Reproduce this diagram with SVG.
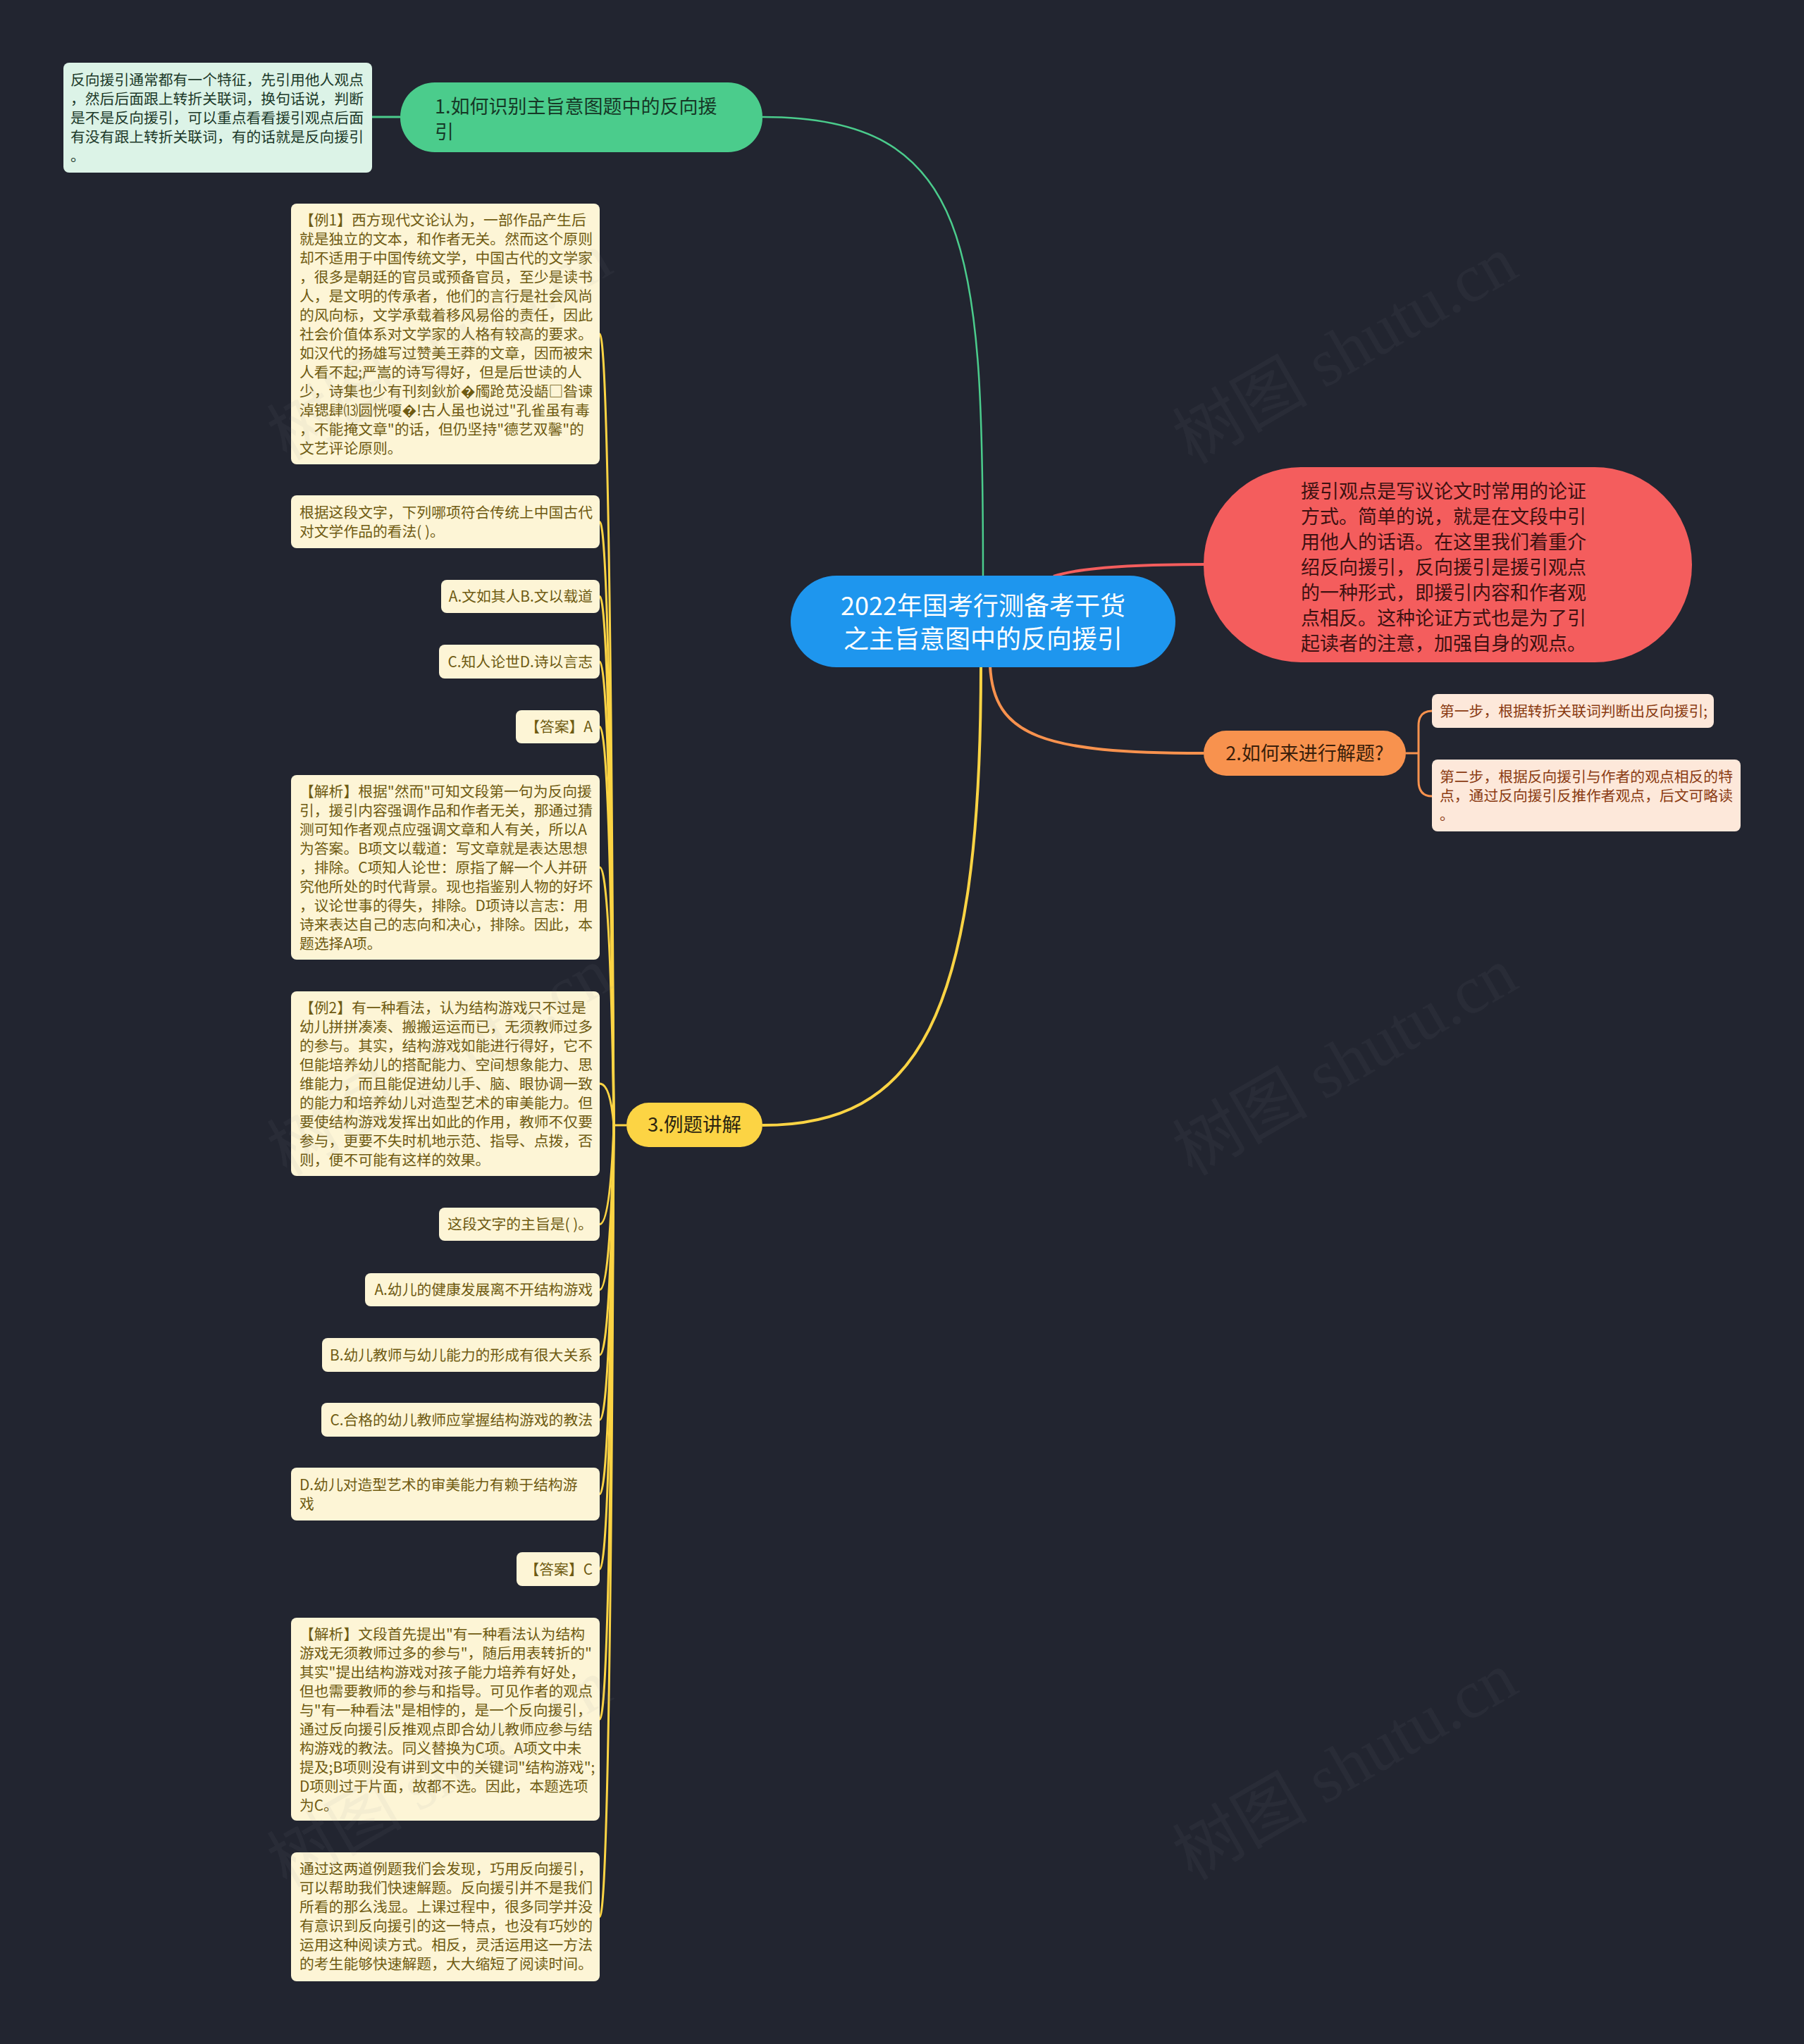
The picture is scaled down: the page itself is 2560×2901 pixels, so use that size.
<svg xmlns="http://www.w3.org/2000/svg" width="2560" height="2901" viewBox="0 0 2560 2901">
<style>
text{font-family:"Noto Sans CJK SC","Noto Sans",sans-serif;}
.bg{fill:#222530;}
.ylf{fill:#fdf5d6;}
.yt{fill:#6f5b12;font-size:20.8px;}
.yte{fill:#6f5b12;font-size:20.8px;text-anchor:end;}
.olf{fill:#fde8da;}
.ot{fill:#8a3b12;font-size:20.8px;}
.glf{fill:#dcf3e7;}
.gt{fill:#1d3a2a;font-size:20.8px;}
.yc{fill:none;stroke:#fcd444;stroke-width:3;}
.wm{fill:#8a8f99;opacity:0.07;font-size:96px;font-family:"Liberation Serif","Noto Sans CJK SC",serif;}
</style>
<rect class="bg" x="0" y="0" width="2560" height="2901"/>

<g id="connectors">
  <path d="M1082,166 C1380,166 1395,350 1395,818" fill="none" stroke="#4bcc8c" stroke-width="2.5"/>
  <path d="M1495,818 Q1545,801 1709,801" fill="none" stroke="#f45d5d" stroke-width="4"/>
  <path d="M1405,945 C1410,1045 1480,1069 1708,1069" fill="none" stroke="#f8924e" stroke-width="4"/>
  <path d="M1392,945 C1392,1450 1300,1597 1082,1597" fill="none" stroke="#fcd444" stroke-width="4"/>
  <path d="M528,166 L568,166" fill="none" stroke="#4bcc8c" stroke-width="3"/>
  <path d="M1995,1069 L2013,1069 M2032,1009 Q2013,1009 2013,1030 L2013,1108 Q2013,1130 2032,1130" fill="none" stroke="#f8924e" stroke-width="3"/>
  <path class="yc" d="M889,1597 L871,1597"/>
  <path class="yc" d="M871,1597 Q866,474 851,474"/>
  <path class="yc" d="M871,1597 Q866,740.5 851,740.5"/>
  <path class="yc" d="M871,1597 Q866,846.5 851,846.5"/>
  <path class="yc" d="M871,1597 Q866,939 851,939"/>
  <path class="yc" d="M871,1597 Q866,1031.5 851,1031.5"/>
  <path class="yc" d="M871,1597 Q866,1231 851,1231"/>
  <path class="yc" d="M871,1597 Q866,1538 851,1538"/>
  <path class="yc" d="M871,1597 Q866,1737.5 851,1737.5"/>
  <path class="yc" d="M871,1597 Q866,1830.5 851,1830.5"/>
  <path class="yc" d="M871,1597 Q866,1923 851,1923"/>
  <path class="yc" d="M871,1597 Q866,2015 851,2015"/>
  <path class="yc" d="M871,1597 Q866,2120.5 851,2120.5"/>
  <path class="yc" d="M871,1597 Q866,2227 851,2227"/>
  <path class="yc" d="M871,1597 Q866,2440 851,2440"/>
  <path class="yc" d="M871,1597 Q866,2720.5 851,2720.5"/>
</g>

<g id="central">
  <rect x="1122" y="817" width="546" height="130" rx="65" fill="#1e96ee"/>
  <text x="1395" y="873" font-size="36" fill="#ffffff" text-anchor="middle">2022年国考行测备考干货</text>
  <text x="1395" y="920" font-size="36" fill="#ffffff" text-anchor="middle">之主旨意图中的反向援引</text>
</g>

<g id="intro">
  <rect x="1708" y="663" width="693" height="277" rx="138" fill="#f45d5d"/>
  <text font-size="27" fill="#3d1111">
    <tspan x="1846" y="706.5">援引观点是写议论文时常用的论证</tspan>
    <tspan x="1846" y="742.5">方式。简单的说，就是在文段中引</tspan>
    <tspan x="1846" y="778.5">用他人的话语。在这里我们着重介</tspan>
    <tspan x="1846" y="814.5">绍反向援引，反向援引是援引观点</tspan>
    <tspan x="1846" y="850.5">的一种形式，即援引内容和作者观</tspan>
    <tspan x="1846" y="886.5">点相反。这种论证方式也是为了引</tspan>
    <tspan x="1846" y="922.5">起读者的注意，加强自身的观点。</tspan>
  </text>
</g>

<g id="topic1">
  <rect x="568" y="117" width="514" height="99" rx="49" fill="#4bcc8c"/>
  <text font-size="27" fill="#163826">
    <tspan x="617" y="161">1.如何识别主旨意图题中的反向援</tspan>
    <tspan x="617" y="197">引</tspan>
  </text>
</g>
<g id="topic1-leaf">
  <rect class="glf" x="90" y="89" width="438" height="156" rx="8"/>
  <text class="gt">
    <tspan x="100" y="120.5">反向援引通常都有一个特征，先引用他人观点</tspan>
    <tspan x="100" y="147.5">，然后后面跟上转折关联词，换句话说，判断</tspan>
    <tspan x="100" y="174.5">是不是反向援引，可以重点看看援引观点后面</tspan>
    <tspan x="100" y="201.5">有没有跟上转折关联词，有的话就是反向援引</tspan>
    <tspan x="100" y="228.5">。</tspan>
  </text>
</g>

<g id="topic2">
  <rect x="1708" y="1037" width="287" height="64" rx="32" fill="#f8924e"/>
  <text x="1851.5" y="1078.5" font-size="27" fill="#3a1e0a" text-anchor="middle">2.如何来进行解题?</text>
</g>
<g id="topic2-leaf1">
  <rect class="olf" x="2032" y="985" width="400" height="48" rx="8"/>
  <text class="ot" x="2043" y="1016.5">第一步，根据转折关联词判断出反向援引;</text>
</g>
<g id="topic2-leaf2">
  <rect class="olf" x="2032" y="1078" width="438" height="102" rx="8"/>
  <text class="ot">
    <tspan x="2043" y="1109.5">第二步，根据反向援引与作者的观点相反的特</tspan>
    <tspan x="2043" y="1136.5">点，通过反向援引反推作者观点，后文可略读</tspan>
    <tspan x="2043" y="1163.5">。</tspan>
  </text>
</g>

<g id="topic3">
  <rect x="889" y="1565" width="193" height="63" rx="31.5" fill="#fcd444"/>
  <text x="985.5" y="1606" font-size="27.5" fill="#2b2410" text-anchor="middle">3.例题讲解</text>
</g>

<g id="leaf-ex1">
  <rect class="ylf" x="413" y="289" width="438" height="370" rx="8"/>
  <text class="yt">
    <tspan x="425" y="320">【例1】西方现代文论认为，一部作品产生后</tspan>
    <tspan x="425" y="347">就是独立的文本，和作者无关。然而这个原则</tspan>
    <tspan x="425" y="374">却不适用于中国传统文学，中国古代的文学家</tspan>
    <tspan x="425" y="401">，很多是朝廷的官员或预备官员，至少是读书</tspan>
    <tspan x="425" y="428">人，是文明的传承者，他们的言行是社会风尚</tspan>
    <tspan x="425" y="455">的风向标，文学承载着移风易俗的责任，因此</tspan>
    <tspan x="425" y="482">社会价值体系对文学家的人格有较高的要求。</tspan>
    <tspan x="425" y="509">如汉代的扬雄写过赞美王莽的文章，因而被宋</tspan>
    <tspan x="425" y="536">人看不起;严嵩的诗写得好，但是后世读的人</tspan>
    <tspan x="425" y="563">少，诗集也少有刊刻鈥斺�斶跄苋没龉□昝谏</tspan>
    <tspan x="425" y="590">淖锶肆⒀圆恍嗄�!古人虽也说过"孔雀虽有毒</tspan>
    <tspan x="425" y="617">，不能掩文章"的话，但仍坚持"德艺双馨"的</tspan>
    <tspan x="425" y="644">文艺评论原则。</tspan>
  </text>
</g>
<g id="leaf-q1">
  <rect class="ylf" x="413" y="703" width="438" height="75" rx="8"/>
  <text class="yt">
    <tspan x="425" y="734.5">根据这段文字，下列哪项符合传统上中国古代</tspan>
    <tspan x="425" y="761.5">对文学作品的看法( )。</tspan>
  </text>
</g>
<g id="leaf-q1-ab">
  <rect class="ylf" x="626" y="823" width="225" height="47" rx="8"/>
  <text class="yte" x="841" y="854">A.文如其人B.文以载道</text>
</g>
<g id="leaf-q1-cd">
  <rect class="ylf" x="623" y="915" width="228" height="48" rx="8"/>
  <text class="yte" x="841" y="946.5">C.知人论世D.诗以言志</text>
</g>
<g id="leaf-a1">
  <rect class="ylf" x="732" y="1008" width="119" height="47" rx="8"/>
  <text class="yte" x="841" y="1039">【答案】A</text>
</g>
<g id="leaf-an1">
  <rect class="ylf" x="413" y="1100" width="438" height="262" rx="8"/>
  <text class="yt">
    <tspan x="425" y="1131">【解析】根据"然而"可知文段第一句为反向援</tspan>
    <tspan x="425" y="1158">引，援引内容强调作品和作者无关，那通过猜</tspan>
    <tspan x="425" y="1185">测可知作者观点应强调文章和人有关，所以A</tspan>
    <tspan x="425" y="1212">为答案。B项文以载道：写文章就是表达思想</tspan>
    <tspan x="425" y="1239">，排除。C项知人论世：原指了解一个人并研</tspan>
    <tspan x="425" y="1266">究他所处的时代背景。现也指鉴别人物的好坏</tspan>
    <tspan x="425" y="1293">，议论世事的得失，排除。D项诗以言志：用</tspan>
    <tspan x="425" y="1320">诗来表达自己的志向和决心，排除。因此，本</tspan>
    <tspan x="425" y="1347">题选择A项。</tspan>
  </text>
</g>
<g id="leaf-ex2">
  <rect class="ylf" x="413" y="1407" width="438" height="262" rx="8"/>
  <text class="yt">
    <tspan x="425" y="1438">【例2】有一种看法，认为结构游戏只不过是</tspan>
    <tspan x="425" y="1465">幼儿拼拼凑凑、搬搬运运而已，无须教师过多</tspan>
    <tspan x="425" y="1492">的参与。其实，结构游戏如能进行得好，它不</tspan>
    <tspan x="425" y="1519">但能培养幼儿的搭配能力、空间想象能力、思</tspan>
    <tspan x="425" y="1546">维能力，而且能促进幼儿手、脑、眼协调一致</tspan>
    <tspan x="425" y="1573">的能力和培养幼儿对造型艺术的审美能力。但</tspan>
    <tspan x="425" y="1600">要使结构游戏发挥出如此的作用，教师不仅要</tspan>
    <tspan x="425" y="1627">参与，更要不失时机地示范、指导、点拨，否</tspan>
    <tspan x="425" y="1654">则，便不可能有这样的效果。</tspan>
  </text>
</g>
<g id="leaf-q2">
  <rect class="ylf" x="623" y="1714" width="228" height="47" rx="8"/>
  <text class="yte" x="841" y="1745">这段文字的主旨是( )。</text>
</g>
<g id="leaf-q2-a">
  <rect class="ylf" x="518" y="1807" width="333" height="47" rx="8"/>
  <text class="yte" x="841" y="1838">A.幼儿的健康发展离不开结构游戏</text>
</g>
<g id="leaf-q2-b">
  <rect class="ylf" x="457" y="1899" width="394" height="48" rx="8"/>
  <text class="yte" x="841" y="1930.5">B.幼儿教师与幼儿能力的形成有很大关系</text>
</g>
<g id="leaf-q2-c">
  <rect class="ylf" x="456" y="1991" width="395" height="48" rx="8"/>
  <text class="yte" x="841" y="2022.5">C.合格的幼儿教师应掌握结构游戏的教法</text>
</g>
<g id="leaf-q2-d">
  <rect class="ylf" x="413" y="2083" width="438" height="75" rx="8"/>
  <text class="yt">
    <tspan x="425" y="2114.5">D.幼儿对造型艺术的审美能力有赖于结构游</tspan>
    <tspan x="425" y="2141.5">戏</tspan>
  </text>
</g>
<g id="leaf-a2">
  <rect class="ylf" x="733" y="2203" width="118" height="48" rx="8"/>
  <text class="yte" x="841" y="2234.5">【答案】C</text>
</g>
<g id="leaf-an2">
  <rect class="ylf" x="413" y="2296" width="438" height="288" rx="8"/>
  <text class="yt">
    <tspan x="425" y="2326.5">【解析】文段首先提出"有一种看法认为结构</tspan>
    <tspan x="425" y="2353.5">游戏无须教师过多的参与"，随后用表转折的"</tspan>
    <tspan x="425" y="2380.5">其实"提出结构游戏对孩子能力培养有好处，</tspan>
    <tspan x="425" y="2407.5">但也需要教师的参与和指导。可见作者的观点</tspan>
    <tspan x="425" y="2434.5">与"有一种看法"是相悖的，是一个反向援引，</tspan>
    <tspan x="425" y="2461.5">通过反向援引反推观点即合幼儿教师应参与结</tspan>
    <tspan x="425" y="2488.5">构游戏的教法。同义替换为C项。A项文中未</tspan>
    <tspan x="425" y="2515.5">提及;B项则没有讲到文中的关键词"结构游戏";</tspan>
    <tspan x="425" y="2542.5">D项则过于片面，故都不选。因此，本题选项</tspan>
    <tspan x="425" y="2569.5">为C。</tspan>
  </text>
</g>
<g id="leaf-summary">
  <rect class="ylf" x="413" y="2629" width="438" height="183" rx="8"/>
  <text class="yt">
    <tspan x="425" y="2660">通过这两道例题我们会发现，巧用反向援引，</tspan>
    <tspan x="425" y="2687">可以帮助我们快速解题。反向援引并不是我们</tspan>
    <tspan x="425" y="2714">所看的那么浅显。上课过程中，很多同学并没</tspan>
    <tspan x="425" y="2741">有意识到反向援引的这一特点，也没有巧妙的</tspan>
    <tspan x="425" y="2768">运用这种阅读方式。相反，灵活运用这一方法</tspan>
    <tspan x="425" y="2795">的考生能够快速解题，大大缩短了阅读时间。</tspan>
  </text>
</g>

<g id="watermarks">
  <text class="wm" text-anchor="middle" transform="translate(640,520) rotate(-30)">树图 shutu.cn</text>
  <text class="wm" text-anchor="middle" transform="translate(1925,525) rotate(-30)">树图 shutu.cn</text>
  <text class="wm" text-anchor="middle" transform="translate(640,1535) rotate(-30)">树图 shutu.cn</text>
  <text class="wm" text-anchor="middle" transform="translate(1925,1535) rotate(-30)">树图 shutu.cn</text>
  <text class="wm" text-anchor="middle" transform="translate(640,2545) rotate(-30)">树图 shutu.cn</text>
  <text class="wm" text-anchor="middle" transform="translate(1925,2535) rotate(-30)">树图 shutu.cn</text>
</g>
</svg>
